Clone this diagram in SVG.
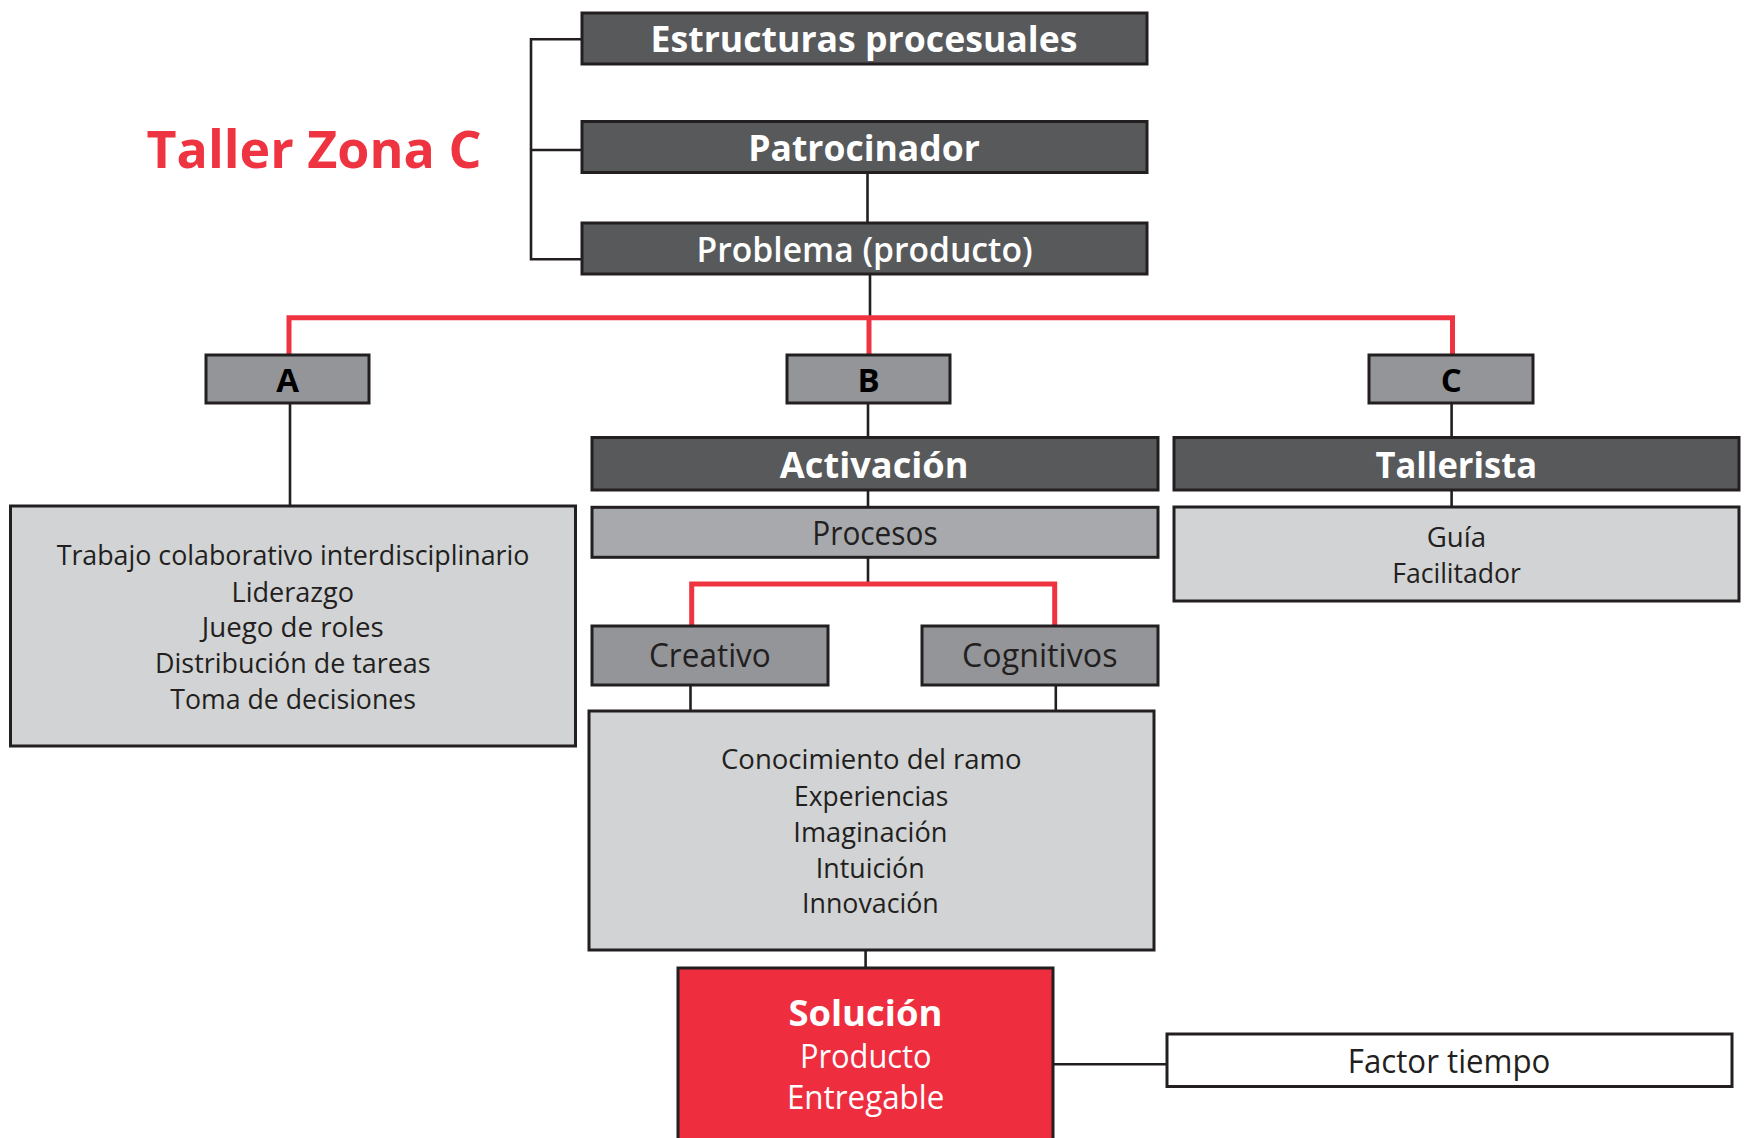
<svg xmlns="http://www.w3.org/2000/svg" width="1751" height="1138" viewBox="0 0 1751 1138">
<style>
.bx{stroke:#231f20;stroke-width:3}
.dk{fill:#58595b}
.md{fill:#939598}
.pr{fill:#a7a9ac}
.lt{fill:#d1d3d4}
.rd{fill:#ee2e3f}
.wh{fill:#ffffff}
.cn{fill:none;stroke:#231f20;stroke-width:2.6}
.rl{fill:none;stroke:#ef3340;stroke-width:5}
text{font-family:"Open Sans","Noto Sans","Liberation Sans",sans-serif;text-anchor:middle}
.hb{font-size:35px;font-weight:700;fill:#ffffff}
.hs{font-size:34px;font-weight:600;fill:#ffffff}
.lb{font-size:33px;font-weight:700;fill:#000000}
.mt{font-size:33px;font-weight:400;fill:#231f20}
.st{font-size:28px;font-weight:400;fill:#231f20}
.wt{font-size:33px;font-weight:400;fill:#ffffff}
</style>
<rect width="1751" height="1138" fill="#ffffff"/>
<text id="title" x="314" y="167.7" style="font-size:52px;font-weight:700;fill:#ee3440" textLength="335" lengthAdjust="spacingAndGlyphs">Taller Zona C</text>
<g id="connectors">
<path class="cn" d="M581.7 39.3H531V259.3H581.7M531 150H581.7"/>
<path class="cn" d="M867.5 172.5V223"/>
<path class="cn" d="M870 274V317"/>
<path class="rl" d="M289 355V317.7H1452.5V355M869 317.7V355"/>
<path class="cn" d="M290 403V506"/>
<path class="cn" d="M868 403V437.5"/>
<path class="cn" d="M1451.6 403V437.5"/>
<path class="cn" d="M868 490V507"/>
<path class="cn" d="M1451.6 490V507"/>
<path class="cn" d="M868 557V584"/>
<path class="rl" d="M691.7 626V584H1054.7V626"/>
<path class="cn" d="M690.5 685V711"/>
<path class="cn" d="M1055.8 685V711"/>
<path class="cn" d="M865.6 950V968"/>
<path class="cn" d="M1053 1064.3H1167"/>
</g>
<g id="estructuras"><rect class="bx dk" x="582" y="13" width="565" height="51"/><text class="hb" x="864" y="51.7" textLength="427" lengthAdjust="spacingAndGlyphs">Estructuras procesuales</text></g>
<g id="patrocinador"><rect class="bx dk" x="582" y="121.5" width="565" height="51"/><text class="hb" x="864" y="161" textLength="231.5" lengthAdjust="spacingAndGlyphs">Patrocinador</text></g>
<g id="problema"><rect class="bx dk" x="582" y="223" width="565" height="51"/><text class="hs" x="864.6" y="261.7" textLength="336" lengthAdjust="spacingAndGlyphs">Problema (producto)</text></g>
<g id="a"><rect class="bx md" x="206" y="355" width="163" height="48"/><text class="lb" x="287.6" y="391.7">A</text></g>
<g id="b"><rect class="bx md" x="787" y="355" width="163" height="48"/><text class="lb" x="868.5" y="391.7">B</text></g>
<g id="c"><rect class="bx md" x="1369" y="355" width="164" height="48"/><text class="lb" x="1451.3" y="391.7">C</text></g>
<g id="activacion"><rect class="bx dk" x="592" y="437.5" width="566" height="52.5"/><text class="hb" x="874.2" y="478.3" textLength="188.7" lengthAdjust="spacingAndGlyphs">Activación</text></g>
<g id="tallerista"><rect class="bx dk" x="1174" y="437.5" width="565" height="52.5"/><text class="hb" x="1456.3" y="478" textLength="161.7" lengthAdjust="spacingAndGlyphs">Tallerista</text></g>
<g id="procesos"><rect class="bx pr" x="592" y="507.3" width="566" height="50"/><text class="mt" x="875" y="545" textLength="125.3" lengthAdjust="spacingAndGlyphs">Procesos</text></g>
<g id="guia"><rect class="bx lt" x="1174" y="507" width="565" height="94"/>
<text class="st" x="1456.4" y="546.7" textLength="59.4" lengthAdjust="spacingAndGlyphs">Guía</text>
<text class="st" x="1456.6" y="582.7" textLength="128.8" lengthAdjust="spacingAndGlyphs">Facilitador</text></g>
<g id="habilidades"><rect class="bx lt" x="10.5" y="506" width="565" height="240"/>
<text class="st" x="293" y="565" textLength="472.7" lengthAdjust="spacingAndGlyphs">Trabajo colaborativo interdisciplinario</text>
<text class="st" x="292.8" y="601.5" textLength="122.5" lengthAdjust="spacingAndGlyphs">Liderazgo</text>
<text class="st" x="292.8" y="637" textLength="182" lengthAdjust="spacingAndGlyphs">Juego de roles</text>
<text class="st" x="292.8" y="673.3" textLength="275.5" lengthAdjust="spacingAndGlyphs">Distribución de tareas</text>
<text class="st" x="293.1" y="709.3" textLength="245.7" lengthAdjust="spacingAndGlyphs">Toma de decisiones</text></g>
<g id="creativo"><rect class="bx md" x="592" y="626" width="236" height="59"/><text class="mt" x="709.9" y="667.3" textLength="121.8" lengthAdjust="spacingAndGlyphs">Creativo</text></g>
<g id="cognitivos"><rect class="bx md" x="922" y="626" width="236" height="59"/><text class="mt" x="1039.8" y="667.3" textLength="155.4" lengthAdjust="spacingAndGlyphs">Cognitivos</text></g>
<g id="conocimiento"><rect class="bx lt" x="589" y="711" width="565" height="239"/>
<text class="st" x="871.3" y="769.3" textLength="300.5" lengthAdjust="spacingAndGlyphs">Conocimiento del ramo</text>
<text class="st" x="871.2" y="806" textLength="154.2" lengthAdjust="spacingAndGlyphs">Experiencias</text>
<text class="st" x="870.4" y="841.7" textLength="154.2" lengthAdjust="spacingAndGlyphs">Imaginación</text>
<text class="st" x="870.2" y="877.7" textLength="108.8" lengthAdjust="spacingAndGlyphs">Intuición</text>
<text class="st" x="870.4" y="913.3" textLength="136.8" lengthAdjust="spacingAndGlyphs">Innovación</text></g>
<g id="solucion"><rect class="bx rd" x="678" y="968" width="375" height="185"/>
<text class="hb" x="865.4" y="1026" textLength="154" lengthAdjust="spacingAndGlyphs">Solución</text>
<text class="wt" x="865.8" y="1067.7" textLength="131.7" lengthAdjust="spacingAndGlyphs">Producto</text>
<text class="wt" x="865.6" y="1109.3" textLength="157.3" lengthAdjust="spacingAndGlyphs">Entregable</text></g>
<g id="factor"><rect class="bx wh" x="1167" y="1034" width="565" height="52.5"/><text class="mt" x="1449.1" y="1073.3" textLength="202.6" lengthAdjust="spacingAndGlyphs">Factor tiempo</text></g>
</svg>
